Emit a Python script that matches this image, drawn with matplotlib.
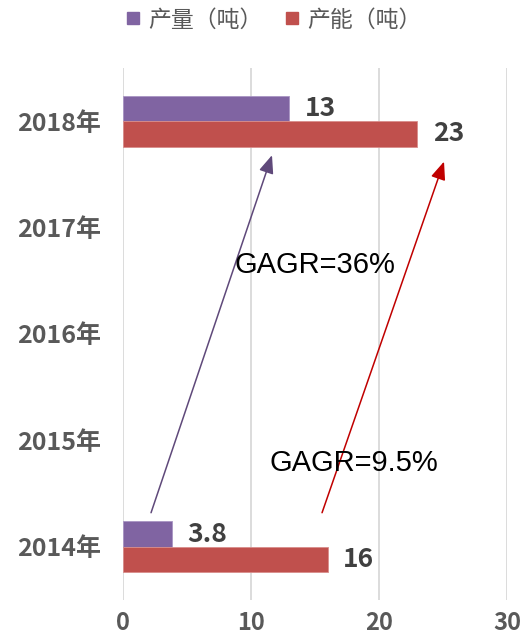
import matplotlib
matplotlib.use('Agg')
import matplotlib.pyplot as plt
from matplotlib.lines import Line2D

plt.rcParams['font.family'] = ['Noto Sans CJK SC', 'DejaVu Sans']

# data
years = ['2014年', '2015年', '2016年', '2017年', '2018年']
output_t = [3.8, None, None, None, 13]      # 产量（吨）
capacity_t = [16, None, None, None, 23]     # 产能（吨）
output_labels = ['3.8', '', '', '', '13']
capacity_labels = ['16', '', '', '', '23']
xticks = [0, 10, 20, 30]

# growth arrows: (x0, y0, x1, y1) in data units, and their notes
purple_arrow = (2.19, 0.32, 11.64, 3.68)
red_arrow = (15.55, 0.32, 25.08, 3.62)
notes = ['GAGR=36%', 'GAGR=9.5%']
note_pos = [(15.0, 2.65), (18.0, 0.79)]

PURPLE = '#8064A2'
RED = '#C0504D'
GREY = '#595959'


def main():
    fig = plt.figure(figsize=(5.23, 6.41), dpi=100)
    ax = fig.add_axes([0.2352, 0.064, 0.7342, 0.830])

    h = 0.24
    for i in range(len(years)):
        if output_t[i] is not None:
            ax.barh(i + h / 2, output_t[i], height=h, color=PURPLE,
                    edgecolor='#A995C4', linewidth=0.6, zorder=3)
            ax.annotate(output_labels[i], (output_t[i], i + h / 2),
                        xytext=(11, 0), textcoords='offset points',
                        va='center', ha='left', fontsize=19,
                        color='#404040', fontweight='bold')
        if capacity_t[i] is not None:
            ax.barh(i - h / 2, capacity_t[i], height=h, color=RED,
                    edgecolor='#D88D8B', linewidth=0.6, zorder=3)
            ax.annotate(capacity_labels[i], (capacity_t[i], i - h / 2),
                        xytext=(11, 0), textcoords='offset points',
                        va='center', ha='left', fontsize=19,
                        color='#404040', fontweight='bold')

    for (x0, y0, x1, y1), col in [(purple_arrow, '#5F497A'), (red_arrow, '#C00000')]:
        ax.annotate('', xy=(x1, y1), xytext=(x0, y0),
                    arrowprops=dict(arrowstyle='-|>,head_length=1.1,head_width=0.45',
                                    mutation_scale=10, color=col, lw=1.1,
                                    shrinkA=0, shrinkB=0),
                    zorder=4)

    for txt, (x, y) in zip(notes, note_pos):
        ax.text(x, y, txt, ha='center', va='center', fontsize=21,
                family='Liberation Sans', color='black', zorder=5)

    ax.set_xlim(0, 30)
    ax.set_ylim(-0.5, 4.5)
    ax.set_xticks(xticks)
    ax.set_xticklabels([str(t) for t in xticks])
    ax.set_yticks(range(len(years)))
    ax.set_yticklabels(years)
    ax.tick_params(axis='x', length=0, pad=8, labelsize=17, labelcolor=GREY)
    ax.tick_params(axis='y', length=0, pad=16, labelsize=18, labelcolor=GREY)
    for lab in ax.get_xticklabels() + ax.get_yticklabels():
        lab.set_fontweight('bold')

    ax.grid(axis='x', color='#D9D9D9', linewidth=1.3, zorder=0)
    ax.set_axisbelow(True)
    for s in ax.spines.values():
        s.set_visible(False)

    handles = [
        Line2D([], [], marker='s', linestyle='none', markersize=9,
               markerfacecolor=PURPLE, markeredgecolor=PURPLE),
        Line2D([], [], marker='s', linestyle='none', markersize=9,
               markerfacecolor=RED, markeredgecolor=RED),
    ]
    leg = fig.legend(handles, ['产量（吨）', '产能（吨）'], ncol=2, loc='center',
                     bbox_to_anchor=(0.524, 0.969), frameon=False,
                     fontsize=16.5, handlelength=0.6, handletextpad=0.35,
                     columnspacing=1.0, borderaxespad=0)
    for t in leg.get_texts():
        t.set_color(GREY)

    fig.savefig('out.png', dpi=100)


if __name__ == '__main__':
    main()
